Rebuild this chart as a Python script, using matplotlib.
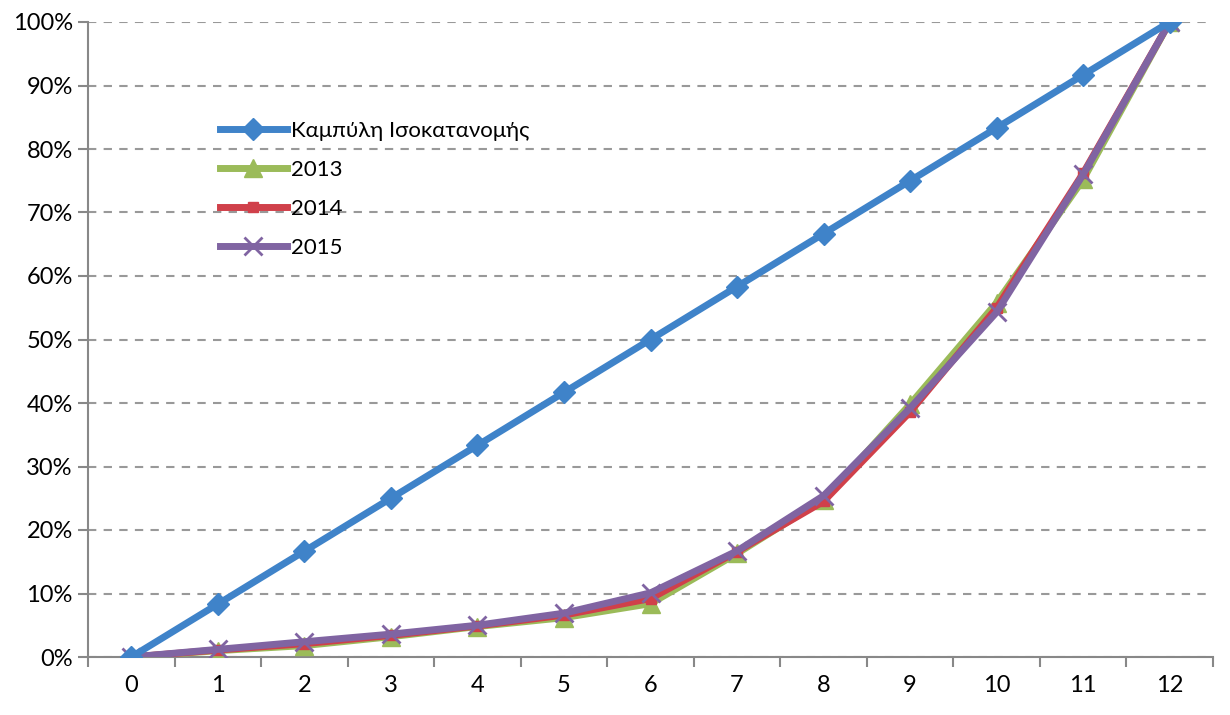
import matplotlib
matplotlib.use("Agg")
import matplotlib.pyplot as plt
from matplotlib.ticker import FixedLocator

plt.rcParams['font.family'] = ['Lato', 'DejaVu Sans']

categories = list(range(13))
equal_curve = [0, 8.33, 16.67, 25, 33.33, 41.67, 50, 58.33, 66.67, 75, 83.33, 91.67, 100]
y2013 = [0, 1.0, 1.8, 3.2, 4.8, 6.2, 8.4, 16.3, 24.8, 39.8, 55.8, 75.2, 100]
y2014 = [0, 1.1, 2.1, 3.4, 4.9, 6.6, 9.2, 16.6, 24.5, 38.6, 55.0, 76.2, 100]
y2015 = [0, 1.2, 2.4, 3.6, 5.0, 6.9, 10.1, 16.7, 25.4, 39.2, 54.3, 76.0, 100]
yticks = list(range(0, 101, 10))
ytick_labels = [f"{v}%" for v in yticks]
series_names = ["Καμπύλη Ισοκατανομής", "2013", "2014", "2015"]

fig = plt.figure(figsize=(12.3, 7.15), dpi=100)
ax = fig.add_axes([88/1230, (715-657)/715, (1213-88)/1230, (657-22)/715])

ax.plot(categories, equal_curve, color='#3f83c9', lw=5, marker='D', ms=11, label=series_names[0], zorder=5)
ax.plot(categories, y2013, color='#9bbb59', lw=5, marker='^', ms=13, label=series_names[1], zorder=3)
ax.plot(categories, y2014, color='#d0404a', lw=5, marker='s', ms=7, label=series_names[2], zorder=4)
ax.plot(categories, y2015, color='#8064a2', lw=5, marker='x', ms=13, mew=2, label=series_names[3], zorder=4.5)

ax.set_xlim(-0.5, 12.5)
ax.set_ylim(0, 100)
ax.set_xticks(categories)
ax.set_xticklabels([str(c) for c in categories], fontsize=17)
ax.xaxis.set_minor_locator(FixedLocator([c - 0.5 for c in categories] + [12.5]))
ax.tick_params(axis='x', which='major', length=0, pad=13)
ax.tick_params(axis='x', which='minor', length=7, width=1.5, color='#888888')
ax.set_yticks(yticks)
ax.set_yticklabels(ytick_labels, fontsize=17)
ax.tick_params(axis='y', length=7, width=1.5, color='#888888', pad=4, direction='out')

ax.yaxis.grid(True, linestyle=(0, (4, 3.5)), color='#999999', lw=1.5)
ax.set_axisbelow(True)
for s in ['top', 'right']:
    ax.spines[s].set_visible(False)
for s in ['left', 'bottom']:
    ax.spines[s].set_color('#888888')
    ax.spines[s].set_linewidth(1.5)

leg = ax.legend(loc='upper left', bbox_to_anchor=(200/1230, (715-101)/715), bbox_transform=fig.transFigure,
                frameon=False, fontsize=16, handlelength=3.0, handletextpad=0.2, labelspacing=0.85)

fig.savefig("out.png", dpi=100, facecolor='white')
